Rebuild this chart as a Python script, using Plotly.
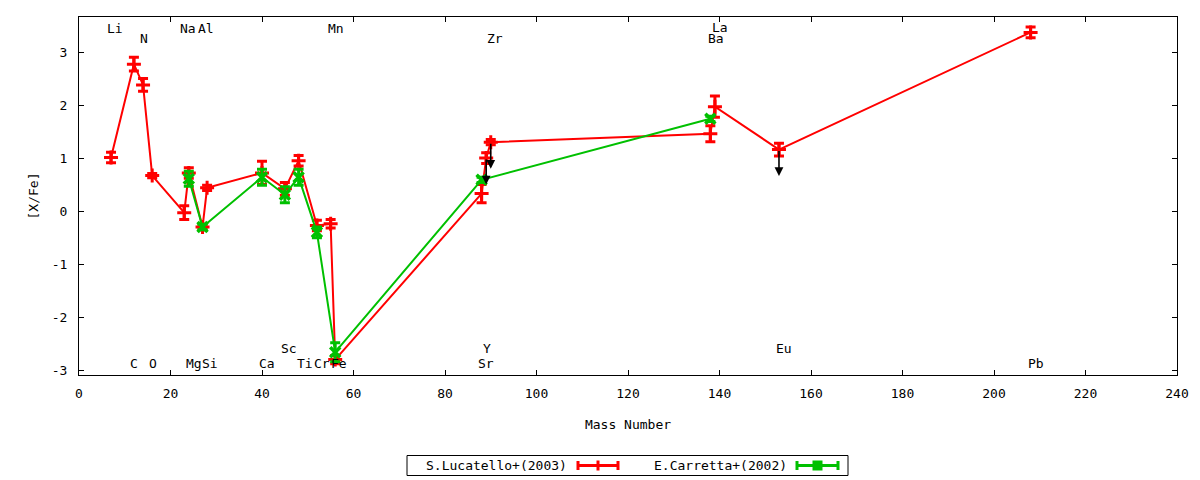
import plotly.graph_objects as go

# ---------------- data ----------------
# S.Lucatello+(2003)
luc_elem = ["Li", "C", "N", "O", "Na", "Mg", "Al", "Si", "Ca", "Sc", "Ti", "Cr", "Mn", "Fe",
            "Sr", "Y", "Zr", "Ba", "La", "Eu", "Pb"]
luc_mass = [7, 12, 14, 16, 23, 24, 27, 28, 40, 45, 48, 52, 55, 56, 88, 89, 90, 138, 139, 153, 208]
luc_val = [1.01, 2.77, 2.38, 0.67, -0.03, 0.72, -0.30, 0.44, 0.72, 0.42, 0.95, -0.27, -0.24, -2.80,
           0.33, 1.00, 1.30, 1.46, 1.97, 1.16, 3.37]
luc_err = [0.10, 0.13, 0.12, 0.04, 0.13, 0.10, 0.05, 0.05, 0.22, 0.12, 0.10, 0.10, 0.08, 0.08,
           0.17, 0.10, 0.05, 0.15, 0.20, 0.12, 0.10]
luc_upper_limit = ["Y", "Zr", "Eu"]
limit_arrow_len = 0.5

# E.Carretta+(2002)
car_elem = ["Mg", "Al", "Ca", "Sc", "Ti", "Cr", "Fe", "Sr", "Ba"]
car_mass = [24, 27, 40, 45, 48, 52, 56, 88, 138]
car_val = [0.61, -0.30, 0.64, 0.31, 0.64, -0.40, -2.66, 0.59, 1.74]
car_err = [0.14, 0.05, 0.15, 0.15, 0.15, 0.10, 0.18, 0.05, 0.05]

# element labels (text, x position, y position)
lab_text = ["Li", "N", "Na", "Al", "Mn", "Zr", "La", "Ba",
            "C", "O", "Mg", "Si", "Ca", "Sc", "Ti", "Cr", "Fe", "Y", "Sr", "Eu", "Pb"]
lab_x = [7.8, 14.2, 23.9, 27.8, 56.2, 90.9, 140.1, 139.2,
         12.0, 16.2, 25.1, 28.7, 41.1, 46.0, 49.4, 53.1, 56.8, 89.2, 89.0, 154.0, 209.1]
lab_y = [3.45, 3.26, 3.45, 3.45, 3.45, 3.26, 3.46, 3.26,
         -2.87, -2.87, -2.87, -2.87, -2.87, -2.59, -2.87, -2.87, -2.87, -2.59, -2.87, -2.59, -2.87]

x_ticks = [0, 20, 40, 60, 80, 100, 120, 140, 160, 180, 200, 220, 240]
y_ticks = [-3, -2, -1, 0, 1, 2, 3]

legend_names = ["S.Lucatello+(2003)", "E.Carretta+(2002)"]

# ---------------- style ----------------
RED = "#ff0000"
GREEN = "#00c000"
FONT = "DejaVu Sans Mono"
OFF = 8  # page body margin of the browser
W, H = 1200 - OFF, 480 - OFF
ML, MR, MT, MB = 79 - OFF, 23, 17 - OFF, 105
PW, PH = W - ML - MR, H - MT - MB


def px(xp):  # window pixel -> paper
    return (xp - OFF - ML) / PW


def py(yp):
    return (H - MB - (yp - OFF)) / PH


fig = go.Figure()

fig.add_trace(go.Scatter(
    x=luc_mass, y=luc_val, mode="lines+markers", name=legend_names[0],
    line=dict(color=RED, width=2),
    marker=dict(symbol="cross-thin", size=10, line=dict(color=RED, width=3), color=RED),
    error_y=dict(type="data", array=luc_err, visible=True, color=RED, thickness=3, width=5),
    showlegend=False,
))

fig.add_trace(go.Scatter(
    x=car_mass, y=car_val, mode="lines+markers", name=legend_names[1],
    line=dict(color=GREEN, width=2),
    marker=dict(symbol="x-thin", size=10, line=dict(color=GREEN, width=3.5), color=GREEN),
    error_y=dict(type="data", array=car_err, visible=True, color=GREEN, thickness=3, width=5),
    showlegend=False,
))

annotations = []
# upper-limit arrows
for e in luc_upper_limit:
    i = luc_elem.index(e)
    annotations.append(dict(
        x=luc_mass[i], y=luc_val[i] - limit_arrow_len,
        ax=luc_mass[i], ay=luc_val[i], axref="x", ayref="y", xref="x", yref="y",
        text="", showarrow=True, arrowhead=2, arrowsize=1.1, arrowwidth=1.6,
        arrowcolor="black", standoff=0, startstandoff=0,
    ))

# element labels
for t, lx, ly in zip(lab_text, lab_x, lab_y):
    annotations.append(dict(
        x=lx, y=ly, xref="x", yref="y", text=t, showarrow=False,
        font=dict(family=FONT, size=13, color="black"),
        xanchor="center", yanchor="middle",
    ))

# custom gnuplot-style key
key_y = py(465.5)
annotations.append(dict(x=px(569), y=key_y, xref="paper", yref="paper", text=legend_names[0],
                        showarrow=False, xanchor="right", yanchor="middle",
                        font=dict(family=FONT, size=13, color="black")))
annotations.append(dict(x=px(789), y=key_y, xref="paper", yref="paper", text=legend_names[1],
                        showarrow=False, xanchor="right", yanchor="middle",
                        font=dict(family=FONT, size=13, color="black")))

shapes = [
    dict(type="rect", xref="paper", yref="paper", x0=px(407), x1=px(848), y0=py(475.5), y1=py(455.5),
         line=dict(color="black", width=1), fillcolor="rgba(0,0,0,0)"),
]


def sample(x0, x1, color, mark):
    s = []
    s.append(dict(type="line", xref="paper", yref="paper", x0=px(x0), x1=px(x1), y0=key_y, y1=key_y,
                  line=dict(color=color, width=3)))
    for xe in (x0 + 1, x1 - 1):
        s.append(dict(type="line", xref="paper", yref="paper", x0=px(xe), x1=px(xe),
                      y0=py(461), y1=py(470), line=dict(color=color, width=3)))
    xc = (x0 + x1) / 2
    if mark == "+":
        s.append(dict(type="line", xref="paper", yref="paper", x0=px(xc), x1=px(xc),
                      y0=py(460.5), y1=py(470.5), line=dict(color=color, width=3)))
    else:
        s.append(dict(type="rect", xref="paper", yref="paper", x0=px(xc - 5), x1=px(xc + 5),
                      y0=py(460.5), y1=py(470.5), line=dict(color=color, width=0), fillcolor=color))
    return s


shapes += sample(577, 619, RED, "+")
shapes += sample(796, 839, GREEN, "x")

axis_common = dict(
    showgrid=False, zeroline=False, showline=True, linecolor="black", linewidth=1,
    mirror="allticks", ticks="inside", ticklen=5, tickcolor="black", tickwidth=1,
    tickfont=dict(family=FONT, size=13, color="black"),
)

fig.update_layout(
    width=W, height=H,
    margin=dict(l=ML, r=MR, t=MT, b=MB),
    paper_bgcolor="white", plot_bgcolor="white",
    xaxis=dict(range=[0, 240], tickvals=x_ticks, ticktext=[str(v) for v in x_ticks],
               ticklabelstandoff=6,
               title=dict(text="Mass Number", font=dict(family=FONT, size=13, color="black"), standoff=20),
               **axis_common),
    yaxis=dict(range=[-3.09, 3.66], tickvals=y_ticks, ticktext=[str(v) for v in y_ticks],
               ticklabelstandoff=8,
               title=dict(text="[X/Fe]", font=dict(family=FONT, size=13, color="black"), standoff=10),
               **axis_common),
    annotations=annotations,
    shapes=shapes,
    showlegend=False,
)

fig.write_html("out.html")
